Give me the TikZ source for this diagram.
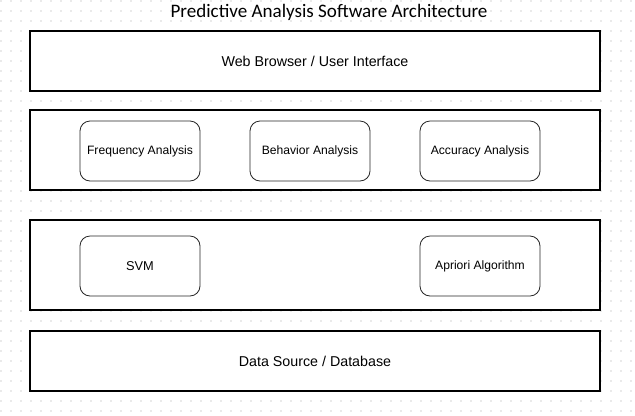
\documentclass[tikz,border=0pt]{standalone}
\usepackage{fontspec}
\setmainfont{Liberation Sans}
\newfontfamily\titlefont{Carlito}
\usepackage{tikz}

\begin{document}
\begin{tikzpicture}[x=0.75pt,y=-0.75pt]
\tikzstyle{layer}=[draw,line width=1pt,fill=white,minimum width=427.5pt,font=\fontsize{10.7}{13}\selectfont]
\tikzstyle{module}=[draw=black!85,line width=0.6pt,fill=white,rounded corners=7.5pt,minimum width=90pt,minimum height=45pt,font=\fontsize{9.1}{11}\selectfont]
\useasboundingbox (0,0) rectangle (635,415);
\fill[white] (0,0) rectangle (635,415);
\foreach \i in {0,...,63}
    \foreach \j in {0,...,41}
        \fill[black!35] (1+10*\i,1+10*\j) circle (0.4pt);
\node (title) at (329,12) {\titlefont\fontsize{14.3}{16}\selectfont Predictive Analysis Software Architecture};
\node[layer,minimum height=45pt] (ui) at (315,61) {Web Browser / User Interface};
\node[layer,minimum height=60pt] (analysis) at (315,150) {};
\node[layer,minimum height=67.5pt] (algo) at (315,265) {};
\node[layer,minimum height=45pt] (data) at (315,361) {Data Source / Database};
\node[module] (freq) at (140,151) {Frequency Analysis};
\node[module] (behav) at (310,151) {Behavior Analysis};
\node[module] (accur) at (480,151) {Accuracy Analysis};
\node[module,font=\fontsize{9.6}{11}\selectfont] (svm) at (140,266) {SVM};
\node[module] (apriori) at (480,266) {Apriori Algorithm};
\end{tikzpicture}
\end{document}
